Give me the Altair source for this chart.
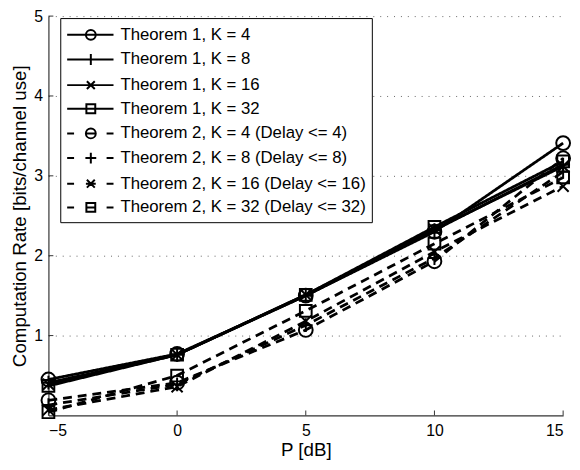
import altair as alt
import pandas as pd

P_dB = [-5, 0, 5, 10, 15]
series_names = [
    "Theorem 1, K = 4",
    "Theorem 1, K = 8",
    "Theorem 1, K = 16",
    "Theorem 1, K = 32",
    "Theorem 2, K = 4 (Delay <= 4)",
    "Theorem 2, K = 8 (Delay <= 8)",
    "Theorem 2, K = 16 (Delay <= 16)",
    "Theorem 2, K = 32 (Delay <= 32)",
]
t1_k4 = [0.45, 0.77, 1.50, 2.30, 3.41]
t1_k8 = [0.41, 0.76, 1.50, 2.32, 3.14]
t1_k16 = [0.39, 0.76, 1.51, 2.33, 3.12]
t1_k32 = [0.37, 0.76, 1.51, 2.36, 3.18]
t2_k4 = [0.19, 0.41, 1.07, 1.93, 3.22]
t2_k8 = [0.13, 0.39, 1.13, 1.97, 3.05]
t2_k16 = [0.07, 0.36, 1.18, 2.05, 2.87]
t2_k32 = [0.04, 0.50, 1.31, 2.15, 2.98]
all_series = [t1_k4, t1_k8, t1_k16, t1_k32, t2_k4, t2_k8, t2_k16, t2_k32]

x_tick_values = [-5, 0, 5, 10, 15]
y_tick_values = [1, 2, 3, 4, 5]

rows = []
for name, vals in zip(series_names, all_series):
    for p, v in zip(P_dB, vals):
        rows.append({"series": name, "P": p, "rate": v})
df = pd.DataFrame(rows)

W, H = 522, 405
FONT = "Liberation Sans"

dash_range = [[1, 0]] * 4 + [[9, 6]] * 4

circle = "M1,0A1,1 0 1 1 -1,0A1,1 0 1 1 1,0Z"
plus = "M-1,0L1,0M0,-1L0,1"
cross = "M-0.8,-0.8L0.8,0.8M-0.8,0.8L0.8,-0.8"
square = "M-0.85,-0.85L0.85,-0.85L0.85,0.85L-0.85,0.85Z"
marker_paths = [circle, plus, cross, square] * 2

# legend symbols: line + marker (unit = 10 px)
solid = "M-1,0L3.7,0"
dashed = "M-1,0L-0.3,0M0.9,0L1.9,0M3.0,0L3.7,0"
l_circle = "M1.9,0A0.5,0.5 0 1 1 0.9,0A0.5,0.5 0 1 1 1.9,0"
l_plus = "M1.4,-0.55L1.4,0.55M0.85,0L1.95,0"
l_cross = "M1.0,-0.4L1.8,0.4M1.0,0.4L1.8,-0.4"
l_square = "M0.95,-0.45L1.85,-0.45L1.85,0.45L0.95,0.45Z"
legend_paths = [solid + m for m in [l_circle, l_plus, l_cross, l_square]] + \
               [dashed + m for m in [l_circle, l_plus, l_cross, l_square]]

x_enc = alt.X(
    "P:Q",
    scale=alt.Scale(domain=[-5, 15], nice=False, zero=False),
    axis=alt.Axis(
        values=x_tick_values, format="d", grid=False, tickSize=0,
        title="P [dB]", labelPadding=7, titlePadding=3,
    ),
)
y_enc = alt.Y(
    "rate:Q",
    scale=alt.Scale(domain=[0, 5], nice=False),
    axis=alt.Axis(
        values=y_tick_values, format="d", grid=True, tickSize=0,
        gridDash=[1, 6], gridColor="#666", gridWidth=1,
        title="Computation Rate [bits/channel use]", labelPadding=6, titlePadding=4,
    ),
)

lines = alt.Chart(df).mark_line(color="black", strokeWidth=2.8).encode(
    x=x_enc, y=y_enc,
    strokeDash=alt.StrokeDash("series:N", scale=alt.Scale(domain=series_names, range=dash_range), legend=None),
    detail="series:N",
)

markers = alt.Chart(df).mark_point(filled=False, color="black", strokeWidth=2, size=196, opacity=1).encode(
    x=x_enc, y=y_enc,
    shape=alt.Shape("series:N", scale=alt.Scale(domain=series_names, range=marker_paths), legend=None),
)

legend_layer = alt.Chart(df).mark_point(filled=False, color="black", opacity=0).encode(
    x=x_enc, y=y_enc,
    shape=alt.Shape(
        "series:N",
        scale=alt.Scale(domain=series_names, range=legend_paths),
        legend=alt.Legend(
            title=None, orient="none", legendX=12, legendY=2,
            symbolSize=400, symbolStrokeWidth=2, symbolStrokeColor="black",
            symbolOpacity=1, symbolFillColor="transparent",
            labelFontSize=17, labelFont=FONT, labelColor="black", labelLimit=500,
            labelOffset=33, rowPadding=5, padding=6,
            strokeColor="black", fillColor="white",
        ),
    ),
)

xticks = alt.Chart(pd.DataFrame({"P": x_tick_values})).mark_rule(color="#333", strokeWidth=1).encode(
    x=x_enc, y=alt.value(H), y2=alt.value(H - 5)
)
yticks = alt.Chart(pd.DataFrame({"rate": y_tick_values})).mark_rule(color="#333", strokeWidth=1).encode(
    y=y_enc, x=alt.value(0), x2=alt.value(5)
)

chart = alt.layer(xticks, yticks, lines, markers, legend_layer).resolve_scale(
    shape="independent"
).properties(
    width=W, height=H,
    autosize=alt.AutoSizeParams(type="none"),
    padding={"left": 41, "top": 5, "right": 9, "bottom": 44},
).configure_view(stroke=None).configure_axis(
    labelFont=FONT, titleFont=FONT, labelFontSize=16, titleFontSize=19,
    titleFontWeight="normal", labelColor="black", titleColor="black",
    domainColor="#333", domainWidth=1.2,
)

chart.save("out.html", embed_options={"renderer": "svg", "actions": False})
